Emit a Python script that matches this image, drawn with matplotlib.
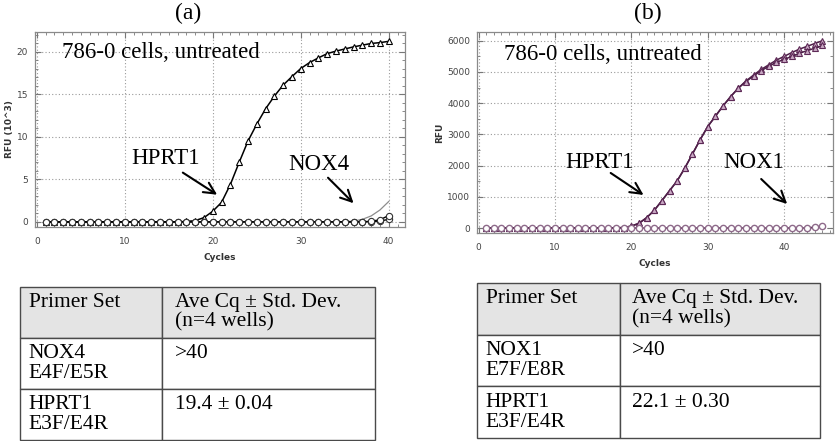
import matplotlib
matplotlib.use("Agg")
import matplotlib.pyplot as plt
from matplotlib.ticker import MultipleLocator

# ---- data ----
cycles_a = list(range(1, 41))
hprt1_a = [0.0, 0.0, 0.0, 0.0, 0.0, 0.0, 0.0, 0.0, 0.0, 0.0,
           0.0, 0.0, 0.0, 0.0, 0.0, 0.0, 0.05, 0.15, 0.5, 1.25,
           2.3, 4.4, 7.0, 9.5, 11.5, 13.3, 14.8, 16.1, 17.1, 18.05,
           18.75, 19.3, 19.8, 20.1, 20.35, 20.6, 20.8, 21.0, 21.1, 21.25]
nox4_a_w1 = [0.0, 0.0, 0.0, 0.0, 0.0, 0.0, 0.0, 0.0, 0.0, 0.0,
             0.0, 0.0, 0.0, 0.0, 0.0, 0.0, 0.0, 0.0, 0.0, 0.0,
             0.0, 0.0, 0.0, 0.0, 0.0, 0.0, 0.0, 0.0, 0.0, 0.0,
             0.0, 0.0, 0.0, 0.0, 0.0, 0.0, 0.02, 0.08, 0.25, 0.75]
nox4_a_w2 = [0.0, 0.0, 0.0, 0.0, 0.0, 0.0, 0.0, 0.0, 0.0, 0.0,
             0.0, 0.0, 0.0, 0.0, 0.0, 0.0, 0.0, 0.0, 0.0, 0.0,
             0.0, 0.0, 0.0, 0.0, 0.0, 0.0, 0.0, 0.0, 0.0, 0.0,
             0.0, 0.0, 0.0, 0.0, 0.0, 0.0, 0.0, 0.03, 0.1, 0.3]
nox4_a_fit_x = [34, 35, 36, 37, 38, 39, 40]
nox4_a_fit_y = [0.0, 0.03, 0.1, 0.3, 0.7, 1.4, 2.4]

cycles_b = list(range(1, 46))
hprt1_b_w1 = [0, 0, 0, 0, 0, 0, 0, 0, 0, 0,
              0, 0, 0, 0, 0, 0, 0, 5, 15, 60,
              150, 330, 565, 875, 1195, 1510, 1920, 2370, 2825, 3250,
              3580, 3910, 4210, 4480, 4690, 4870, 5040, 5180, 5310, 5400,
              5500, 5600, 5680, 5760, 5850]
hprt1_b_w2 = [0, 0, 0, 0, 0, 0, 0, 0, 0, 0,
              0, 0, 0, 0, 0, 0, 0, 5, 15, 60,
              150, 330, 565, 875, 1195, 1510, 1920, 2370, 2825, 3250,
              3580, 3910, 4210, 4480, 4710, 4900, 5080, 5230, 5380, 5500,
              5620, 5730, 5820, 5910, 6000]
nox1_b_w1 = [0, 0, 0, 0, 0, 0, 0, 0, 0, 0,
             0, 0, 0, 0, 0, 0, 0, 0, 0, 0,
             0, 0, 0, 0, 0, 0, 0, 0, 0, 0,
             0, 0, 0, 0, 0, 0, 0, 0, 0, 0,
             0, 0, 0, 30, 60]

table_a = [["Primer Set", "Ave Cq \u00b1 Std. Dev.\n(n=4 wells)"],
           ["NOX4\nE4F/E5R", ">40"],
           ["HPRT1\nE3F/E4R", "19.4 \u00b1 0.04"]]
table_b = [["Primer Set", "Ave Cq \u00b1 Std. Dev.\n(n=4 wells)"],
           ["NOX1\nE7F/E8R", ">40"],
           ["HPRT1\nE3F/E4R", "22.1 \u00b1 0.30"]]

serif = "Liberation Serif"
W, H = 838, 441

fig = plt.figure(figsize=(W / 100, H / 100), dpi=100)


def frac(l, t, r, b):
    return [l / W, 1 - b / H, (r - l) / W, (b - t) / H]


def style_axes(ax, ylab, ymaj, ymin):
    for s in ax.spines.values():
        s.set_color("#8a8a8a")
        s.set_linewidth(0.9)
    ax.grid(True, which="major", ls=(0, (1, 2)), color="#9a9a9a", lw=0.8)
    ax.xaxis.set_major_locator(MultipleLocator(10))
    ax.xaxis.set_minor_locator(MultipleLocator(1))
    ax.yaxis.set_major_locator(MultipleLocator(ymaj))
    ax.yaxis.set_minor_locator(MultipleLocator(ymin))
    ax.tick_params(which="both", direction="in", top=True, right=True,
                   color="#777777", labelsize=6.5, labelcolor="#444444", pad=5)
    ax.tick_params(axis="x", which="major", pad=7)
    ax.tick_params(which="major", length=4)
    ax.tick_params(which="minor", length=2.5)
    ax.set_xlabel("Cycles", fontsize=6.5, fontweight="bold", color="#333333", labelpad=5)
    ax.set_ylabel(ylab, fontsize=6.5, fontweight="bold", color="#333333", labelpad=2)


def arrow(ax, start, end):
    ax.annotate("", xy=end, xytext=start,
                arrowprops=dict(arrowstyle="->", lw=1.5, color="black",
                                mutation_scale=20, shrinkA=0, shrinkB=0))


# ---- panel (a) ----
ax1 = fig.add_axes(frac(35, 32, 405, 227))
ax1.plot(nox4_a_fit_x, nox4_a_fit_y, color="#8c8c8c", lw=0.9, zorder=2)
ax1.plot(cycles_a, hprt1_a, color="black", lw=1.1, marker="^", ms=5,
         mfc="white", mec="black", mew=0.8, zorder=3)
for w in (nox4_a_w2, nox4_a_w1):
    ax1.plot(cycles_a, w, color="black", lw=1.0, marker="o", ms=4.5,
             mfc="white", mec="#333333", mew=0.8, zorder=4)
ax1.set_xlim(-0.2, 41.85)
ax1.set_ylim(-0.6, 22.35)
style_axes(ax1, "RFU (10^3)", 5, 1)
ax1.text(2.9, 19.9, "786-0 cells, untreated", family=serif, fontsize=16.5, va="center")
ax1.text(14.6, 7.5, "HPRT1", family=serif, fontsize=16.5, ha="center", va="center")
ax1.text(32.1, 6.7, "NOX4", family=serif, fontsize=16.5, ha="center", va="center")
arrow(ax1, (16.6, 5.8), (20.5, 3.2))
arrow(ax1, (33.1, 5.2), (36.0, 2.2))

# ---- panel (b) ----
purple = "#4e1f48"
ax2 = fig.add_axes(frac(477, 32, 833, 233))
for w in (hprt1_b_w2, hprt1_b_w1):
    ax2.plot(cycles_b, w, color=purple, lw=1.1, marker="^", ms=5,
             mfc="#c9a9c4", mec="#5e2a57", mew=0.8, zorder=3)
ax2.plot(cycles_b, nox1_b_w1, color=purple, lw=1.0, marker="o", ms=4.5,
         mfc="white", mec="#8e6a8a", mew=1.0, zorder=4)
ax2.set_xlim(-0.2, 46.4)
ax2.set_ylim(-160, 6280)
style_axes(ax2, "RFU", 1000, 500)
ax2.text(3.3, 5545, "786-0 cells, untreated", family=serif, fontsize=16.5, va="center")
ax2.text(15.8, 2083, "HPRT1", family=serif, fontsize=16.5, ha="center", va="center")
ax2.text(36.0, 2083, "NOX1", family=serif, fontsize=16.5, ha="center", va="center")
arrow(ax2, (17.3, 1763), (21.6, 1058))
arrow(ax2, (37.0, 1570), (40.4, 770))

fig.text(188 / W, 1 - 13 / H, "(a)", family=serif, fontsize=17, ha="center", va="center")
fig.text(648 / W, 1 - 13 / H, "(b)", family=serif, fontsize=17, ha="center", va="center")


# ---- tables ----
def draw_table(rect, rows, col_frac):
    tax = fig.add_axes(rect)
    tax.axis("off")
    cells = [[c if "\n" in c else c + "\n" for c in r] for r in rows]
    tb = tax.table(cellText=cells, colWidths=[col_frac, 1 - col_frac],
                   cellLoc="left", bbox=[0, 0, 1, 1])
    tb.auto_set_font_size(False)
    for (r, c), cell in tb.get_celld().items():
        cell.set_edgecolor("#4a4a4a")
        cell.set_linewidth(1.0)
        cell.PAD = 0.06
        cell.get_text().set_fontfamily(serif)
        cell.get_text().set_fontsize(15.5)
        cell.get_text().set_linespacing(1.05)
        if r == 0:
            cell.set_facecolor("#e4e4e4")
    return tb


draw_table(frac(20, 287, 375, 440), table_a, 142 / 355)
draw_table(frac(477, 283, 820, 438), table_b, 143 / 343)

fig.savefig("out.png", dpi=100)
